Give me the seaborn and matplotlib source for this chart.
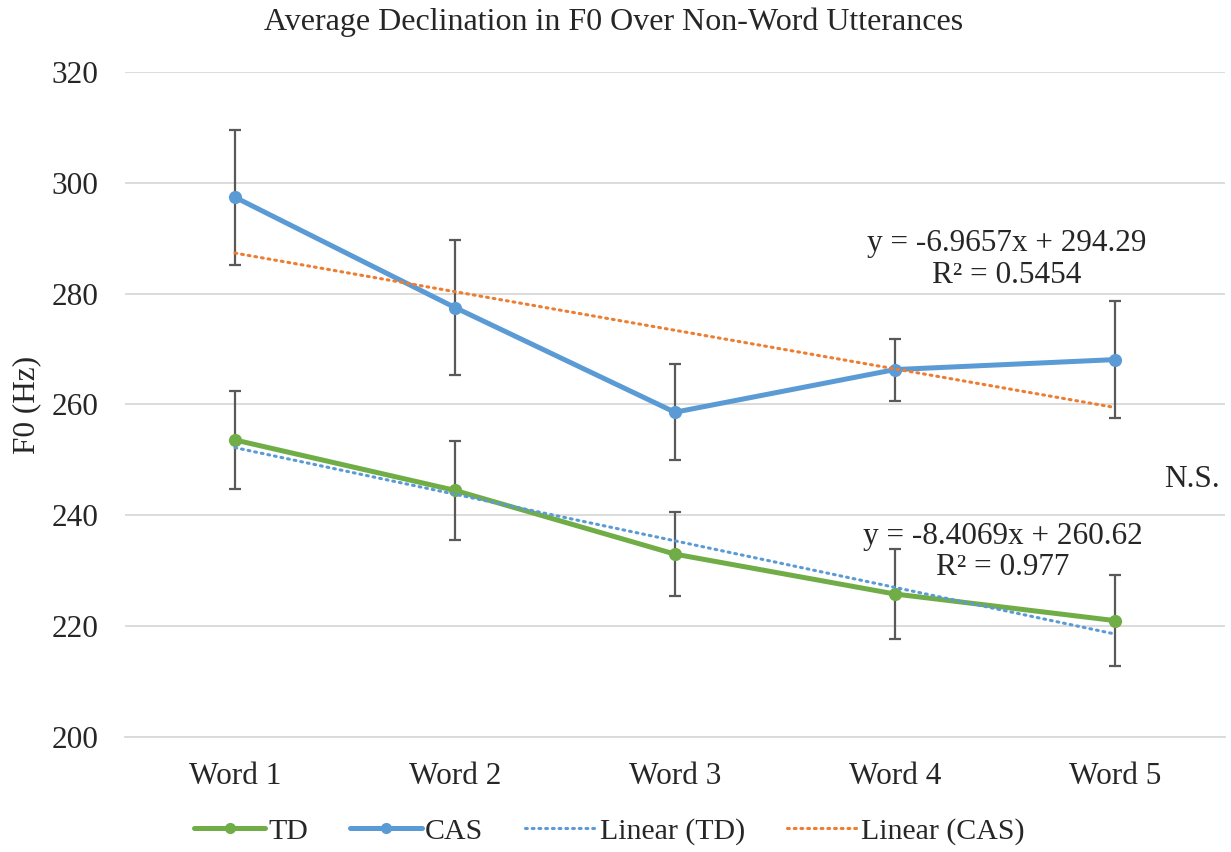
import numpy as np
import pandas as pd
import seaborn as sns
import matplotlib.pyplot as plt
from matplotlib.lines import Line2D

# values
words = ["Word 1", "Word 2", "Word 3", "Word 4", "Word 5"]
td_mean = [253.6, 244.5, 233.0, 225.8, 221.0]
td_err = [8.8, 8.9, 7.6, 8.2, 8.2]
cas_mean = [297.4, 277.5, 258.6, 266.3, 268.1]
cas_err = [12.2, 12.2, 8.7, 5.6, 10.6]

# trendline coefficients printed on the chart
td_slope, td_icpt, td_r2 = -8.4069, 260.62, 0.977
cas_slope, cas_icpt, cas_r2 = -6.9657, 294.29, 0.5454

GREEN = "#70AD47"
BLUE = "#5B9BD5"
ORANGE = "#ED7D31"
ERR = "#595959"
FS = 22.5

sns.set_style("white")
plt.rcParams["font.family"] = ["Liberation Serif", "DejaVu Serif"]

df = pd.DataFrame({
    "word": words * 2,
    "f0": td_mean + cas_mean,
    "group": ["TD"] * 5 + ["CAS"] * 5,
})

fig = plt.figure(figsize=(12.31, 8.52), dpi=100)
ax = fig.add_axes([0.1015, 0.135, 0.8935, 0.7805])

x = np.arange(len(words))
for mean, err in [(td_mean, td_err), (cas_mean, cas_err)]:
    ax.errorbar(x, mean, yerr=err, fmt="none", ecolor=ERR, elinewidth=1.6,
                capsize=4.5, capthick=1.6, zorder=2)

sns.lineplot(data=df, x="word", y="f0", hue="group",
             palette={"TD": GREEN, "CAS": BLUE}, marker="o", markersize=9.5,
             markeredgewidth=0, linewidth=3.6, ax=ax, legend=False, zorder=3,
             sort=False)

xt = x + 1
dots = (0, (0.6, 1.6))
ax.plot(x, td_slope * xt + td_icpt, color=BLUE, linestyle=dots,
        linewidth=2.2, dash_capstyle="round", zorder=4)
ax.plot(x, cas_slope * xt + cas_icpt, color=ORANGE, linestyle=dots,
        linewidth=2.2, dash_capstyle="round", zorder=4)

ax.set_xlim(-0.5, 4.5)
ax.set_ylim(200, 320)
ax.set_yticks(range(200, 321, 20))
ax.grid(axis="y", color="#D9D9D9", linewidth=1.3)
ax.set_axisbelow(True)
for s in ["top", "right", "left"]:
    ax.spines[s].set_visible(False)
ax.spines["bottom"].set_color("#D9D9D9")
ax.spines["bottom"].set_linewidth(1.3)
ax.tick_params(axis="y", length=0, labelsize=FS, pad=19)
ax.tick_params(axis="x", length=0, labelsize=FS, pad=18)
ax.set_xlabel("")
ax.set_ylabel("")
fig.text(27 / 1231, 0.525, "F0 (Hz)", rotation=90, ha="center", va="center",
         fontsize=FS)

fig.text(0.4985, 1 - 22 / 852, "Average Declination in F0 Over Non-Word Utterances",
         ha="center", va="center", fontsize=23)

# trendline labels, two lines each
ax.text(3.51, 287.7, f"y = {cas_slope}x + {cas_icpt}", ha="center",
        va="baseline", fontsize=FS)
ax.text(3.51, 282.0, f"R² = {cas_r2}", ha="center", va="baseline", fontsize=FS)
ax.text(3.49, 234.8, f"y = {td_slope}x + {td_icpt}", ha="center",
        va="baseline", fontsize=FS)
ax.text(3.49, 229.3, f"R² = {td_r2}", ha="center", va="baseline", fontsize=FS)
ax.text(4.35, 246.4, "N.S.", ha="center", va="center", fontsize=FS)

handles = [
    Line2D([], [], color=GREEN, linewidth=3.6, marker="o", markersize=7),
    Line2D([], [], color=BLUE, linewidth=3.6, marker="o", markersize=7),
    Line2D([], [], color=BLUE, linewidth=2.2, linestyle=dots,
           dash_capstyle="round"),
    Line2D([], [], color=ORANGE, linewidth=2.2, linestyle=dots,
           dash_capstyle="round"),
]
fig.legend(handles, ["TD", "CAS", "Linear (TD)", "Linear (CAS)"],
           loc="center", bbox_to_anchor=(0.495, 0.024), ncol=4, frameon=False,
           fontsize=21.5, handlelength=2.4, handletextpad=0.1, columnspacing=1.4)

fig.savefig("out.png", dpi=100)
